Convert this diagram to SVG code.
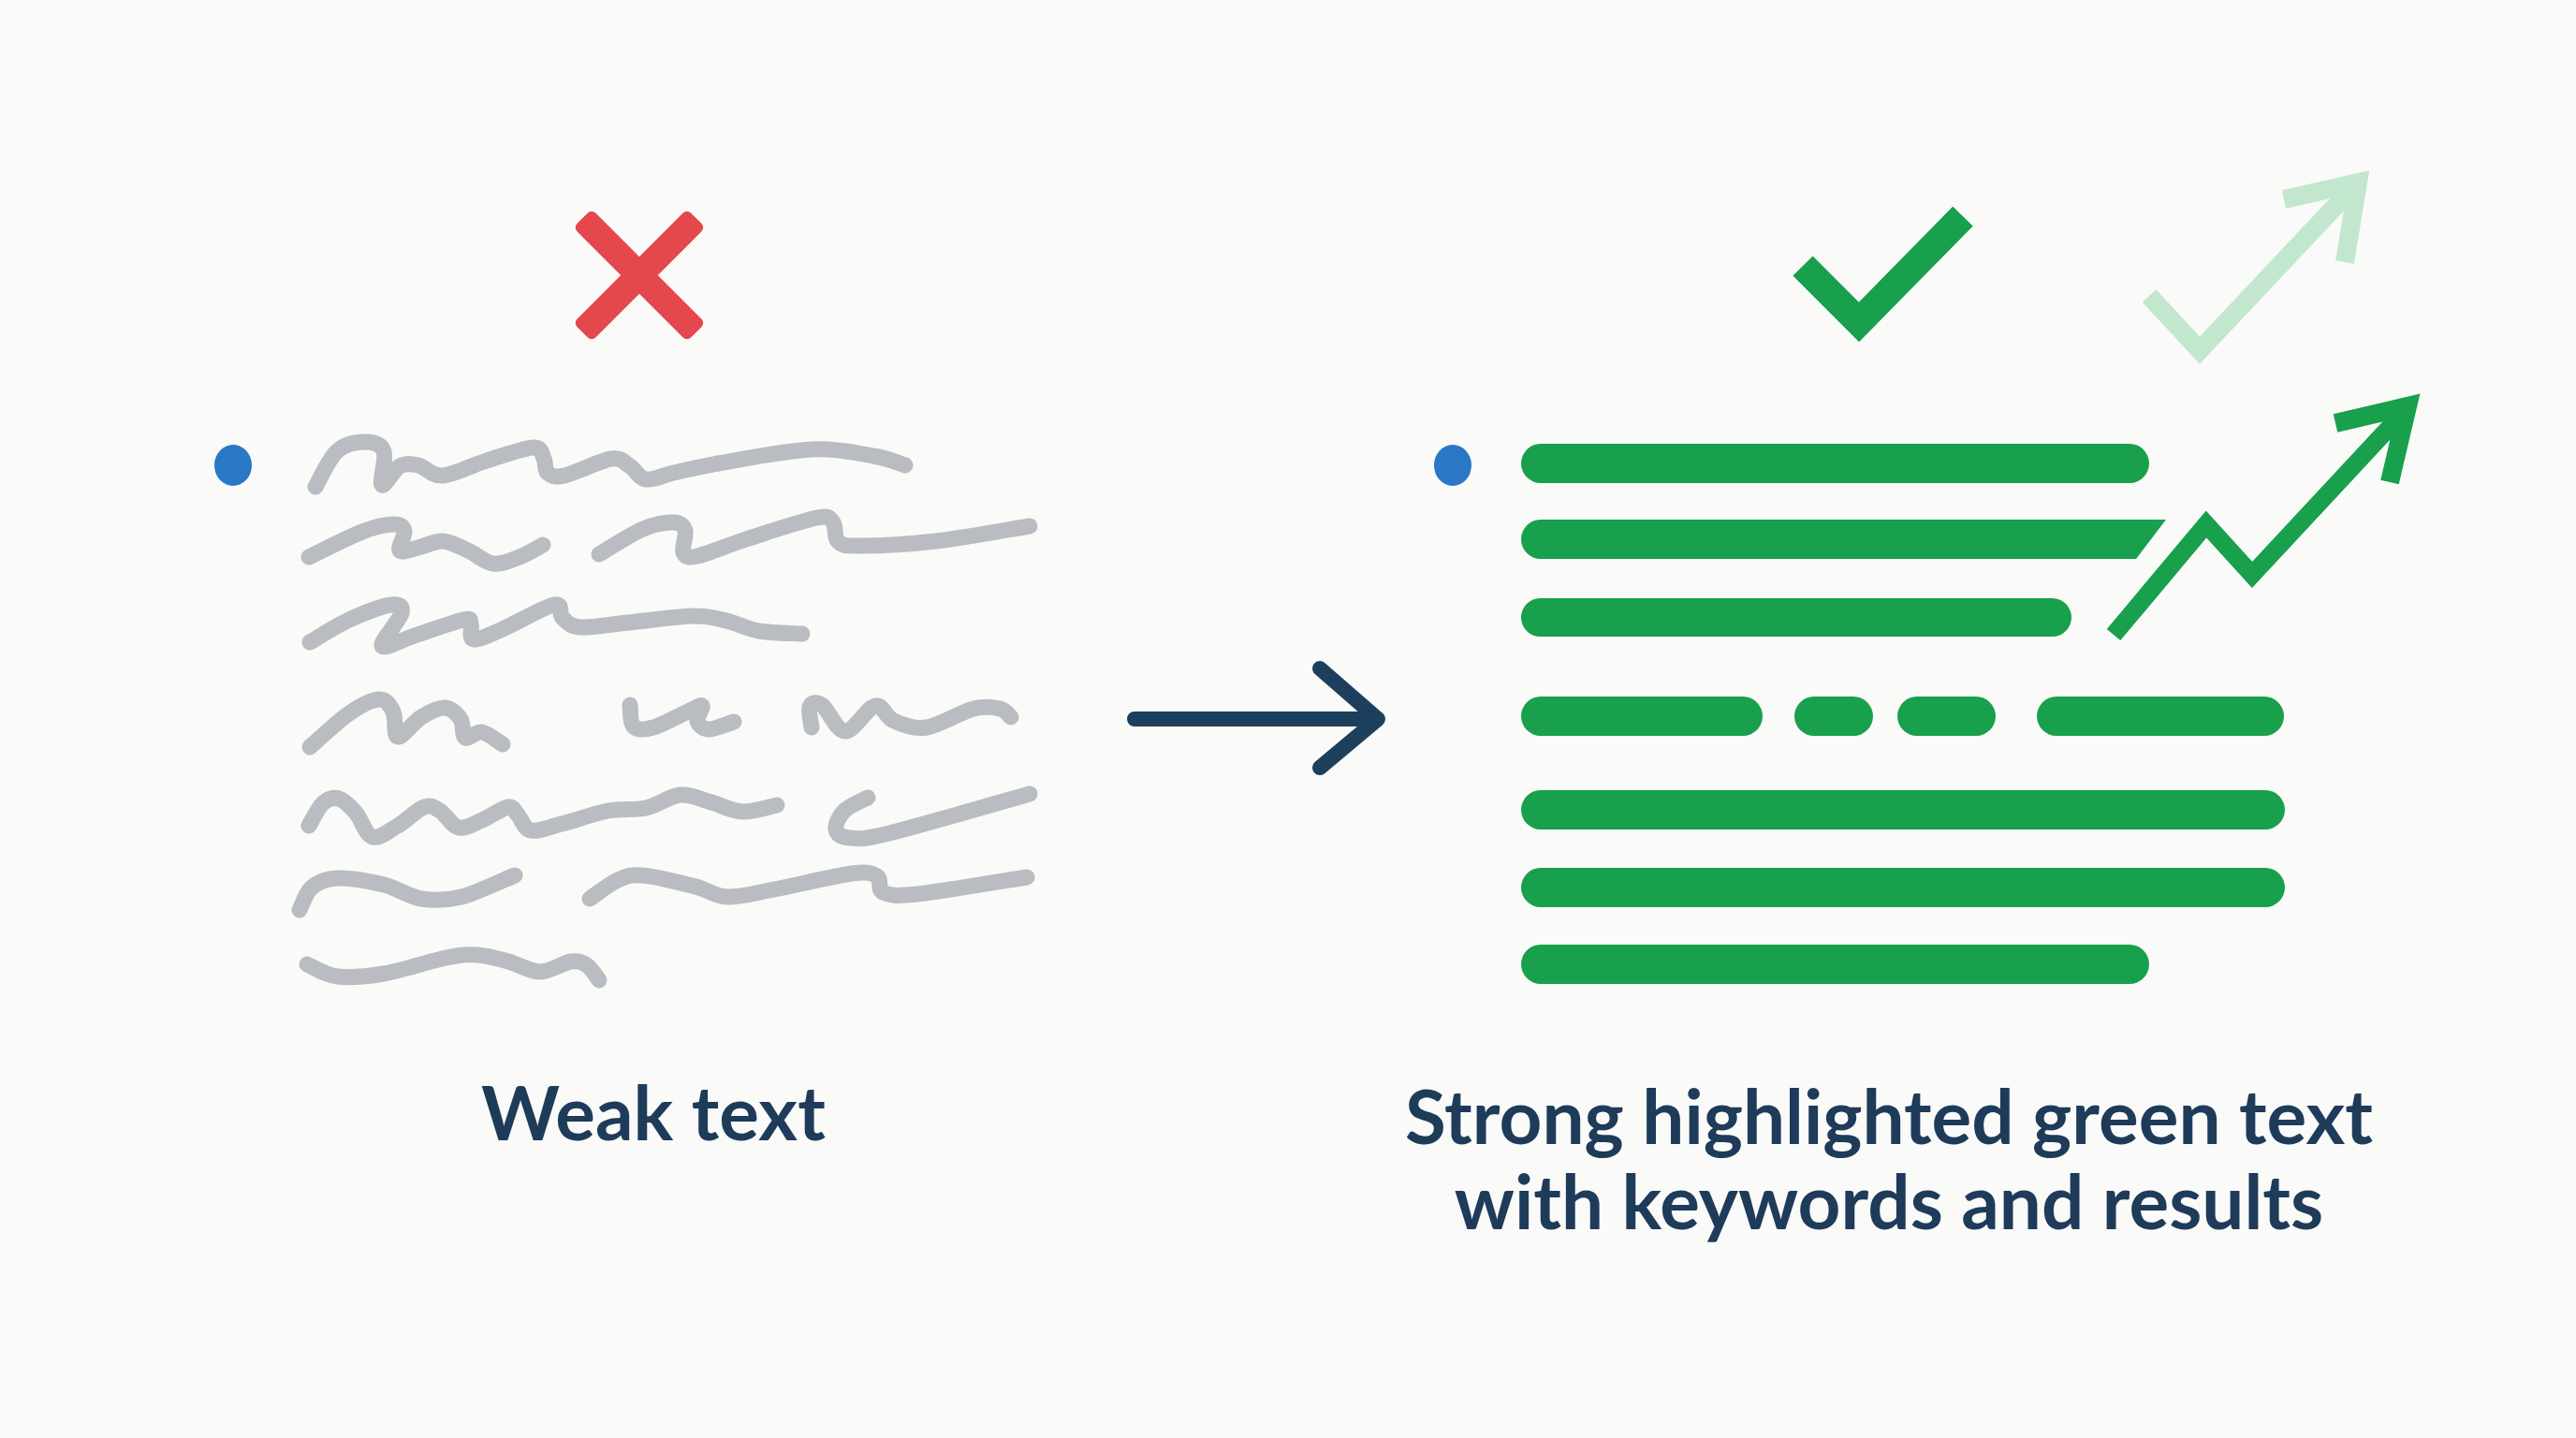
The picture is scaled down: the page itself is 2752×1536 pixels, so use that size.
<svg xmlns="http://www.w3.org/2000/svg" width="2752" height="1536" viewBox="0 0 2752 1536">
<style>
.sq{fill:none;stroke:#b9bcc0;stroke-width:17;stroke-linecap:round;stroke-linejoin:round}
.bar{fill:#18a04c}
.dot{fill:#2a78c5}
.lbl{font-family:Lato,"Open Sans","Liberation Sans",sans-serif;font-weight:700;font-size:80px;fill:#1e3b5a;text-anchor:middle}
.gl{fill:none;stroke:#18a04c;stroke-linejoin:miter;stroke-miterlimit:10}
.fl{fill:none;stroke:#c2e7ce;stroke-linejoin:miter;stroke-miterlimit:10}
</style>
<rect width="2752" height="1536" fill="#fafaf9"/>

<g id="weak-panel">
<g id="x-mark" fill="#e4474c">
<rect x="597" y="280" width="172" height="28" rx="6" transform="rotate(45 683 294)"/>
<rect x="597" y="280" width="172" height="28" rx="6" transform="rotate(-45 683 294)"/>
</g>
<ellipse id="weak-bullet" class="dot" cx="249" cy="497" rx="20" ry="22"/>
<g id="weak-lines">
<path class="sq" d="M337,520 C340.8,513.7 351.2,490 360,482 C368.8,474 381.7,472 390,472 C398.3,472 407,474.3 410,482 C413,489.7 405.2,515.3 408,518 C410.8,520.7 420.5,501.5 427,498 C433.5,494.5 439.3,495.3 447,497 C454.7,498.7 460.8,508.8 473,508 C485.2,507.2 503.8,497 520,492 C536.2,487 559.8,478.3 570,478 C580.2,477.7 578.5,485.5 581,490 C583.5,494.5 581.3,502 585,505 C588.7,508 591.7,510.5 603,508 C614.3,505.5 641.3,491.7 653,490 C664.7,488.3 666.8,494.3 673,498 C679.2,501.7 682.2,510.8 690,512 C697.8,513.2 707.2,507.8 720,505 C732.8,502.2 742.5,499.2 767,495 C791.5,490.8 839.3,481.3 867,480 C894.7,478.7 916.3,484.2 933,487 C949.7,489.8 961.3,495.3 967,497"/>
<path class="sq" d="M330,595 C339.5,590.5 372,573.8 387,568 C402,562.2 412.5,560.2 420,560 C427.5,559.8 430.8,562.3 432,567 C433.2,571.7 424.5,585 427,588 C429.5,591 439.3,586.7 447,585 C454.7,583.3 464.2,577.5 473,578 C481.8,578.5 491,584 500,588 C509,592 517.8,600.8 527,602 C536.2,603.2 546.2,598.3 555,595 C563.8,591.7 575.8,584.2 580,582"/>
<path class="sq" d="M640,592 C647.8,587.5 673.7,570.7 687,565 C700.3,559.3 712.5,557.7 720,558 C727.5,558.3 730.3,561.7 732,567 C733.7,572.3 727.8,585.5 730,590 C732.2,594.5 733.3,596.5 745,594 C756.7,591.5 778.7,581.8 800,575 C821.3,568.2 858,555.8 873,553 C888,550.2 886.3,553.8 890,558 C893.7,562.2 890.5,573.8 895,578 C899.5,582.2 899.5,583 917,583 C934.5,583 969.5,581.5 1000,578 C1030.5,574.5 1083.3,564.7 1100,562"/>
<path class="sq" d="M331,686 C338,682 358.5,668.7 373,662 C387.5,655.3 408.7,647.2 418,646 C427.3,644.8 430.7,647.7 429,655 C427.3,662.3 405.7,686 408,690 C410.3,694 428.5,683.7 443,679 C457.5,674.3 485,664.2 495,662 C505,659.8 501.2,662.5 503,666 C504.8,669.5 500.3,682 506,683 C511.7,684 522.7,678.2 537,672 C551.3,665.8 581.3,648 592,646 C602.7,644 596.3,656 601,660 C605.7,664 608.3,669.2 620,670 C631.7,670.8 650.8,667 671,665 C691.2,663 723.5,658.3 741,658 C758.5,657.7 764.3,660.3 776,663 C787.7,665.7 797.5,671.7 811,674 C824.5,676.3 849.3,676.5 857,677"/>
<path class="sq" d="M331,798 C338,792 360.7,770.5 373,762 C385.3,753.5 397.2,747.3 405,747 C412.8,746.7 416.7,753.3 420,760 C423.3,766.7 420,786 425,787 C430,788 441.7,771.2 450,766 C458.3,760.8 468,755.7 475,756 C482,756.3 488.3,762.7 492,768 C495.7,773.3 493.2,785.7 497,788 C500.8,790.3 508.3,780.8 515,782 C521.7,783.2 533.3,792.8 537,795"/>
<path class="sq" d="M673,753 C673.7,756.8 672.8,772 677,776 C681.2,780 688.3,779.7 698,777 C707.7,774.3 726.3,763.8 735,760 C743.7,756.2 748.3,752.3 750,754 C751.7,755.7 743.8,765.8 745,770 C746.2,774.2 750.5,778.8 757,779 C763.5,779.2 779.5,772.3 784,771"/>
<path class="sq" d="M867,777 C866.7,773.3 863.2,759 865,755 C866.8,751 871.7,748.7 878,753 C884.3,757.3 893.5,780.8 903,781 C912.5,781.2 926.3,755.8 935,754 C943.7,752.2 945.8,766.2 955,770 C964.2,773.8 975.8,779.2 990,777 C1004.2,774.8 1027,760.3 1040,757 C1053,753.7 1061.3,755.5 1068,757 C1074.7,758.5 1078,764.5 1080,766"/>
<path class="sq" d="M330,882 C332.5,878 339.7,862.8 345,858 C350.3,853.2 356.2,851.3 362,853 C367.8,854.7 374,861.2 380,868 C386,874.8 390.5,891.7 398,894 C405.5,896.3 415.8,887.3 425,882 C434.2,876.7 445.5,864.7 453,862 C460.5,859.3 463.8,862.3 470,866 C476.2,869.7 482.5,882.3 490,884 C497.5,885.7 506.2,879.7 515,876 C523.8,872.3 536.7,863 543,862 C549.3,861 549,865.8 553,870 C557,874.2 559.2,885.3 567,887 C574.8,888.7 586.2,883.5 600,880 C613.8,876.5 635,868.8 650,866 C665,863.2 677.2,865.8 690,863 C702.8,860.2 715.3,850 727,849 C738.7,848 749,854 760,857 C771,860 781.3,866.5 793,867 C804.7,867.5 823.8,861.2 830,860"/>
<path class="sq" d="M927,852 C922.8,854.3 907.7,860.3 902,866 C896.3,871.7 892,881.2 893,886 C894,890.8 898.5,894.3 908,895 C917.5,895.7 918,897.8 950,890 C982,882.2 1075,855 1100,848"/>
<path class="sq" d="M320,972 C322.2,968 326.3,953.7 333,948 C339.7,942.3 347.2,938.5 360,938 C372.8,937.5 395,941.3 410,945 C425,948.7 436.2,957.8 450,960 C463.8,962.2 476.3,962.2 493,958 C509.7,953.8 540.5,938.8 550,935"/>
<path class="sq" d="M630,960 C635,956.7 650.5,944.2 660,940 C669.5,935.8 673.2,933.8 687,935 C700.8,936.2 728,943.2 743,947 C758,950.8 763,957.5 777,958 C791,958.5 804.8,954.2 827,950 C849.2,945.8 891.7,935.5 910,933 C928.3,930.5 931.5,932.7 937,936 C942.5,939.3 936.8,949.8 943,953 C950.2,956.2 954.3,957.7 980,955 C1005.7,952.3 1077.5,940 1097,937"/>
<path class="sq" d="M328,1030 C333.3,1032.2 346.3,1041.3 360,1043 C373.7,1044.7 390.5,1043.3 410,1040 C429.5,1036.7 460.3,1026.3 477,1023 C493.7,1019.7 499,1019.3 510,1020 C521,1020.7 531.8,1024 543,1027 C554.2,1030 565.8,1038 577,1038 C588.2,1038 601.7,1028.2 610,1027 C618.3,1025.8 622,1027.7 627,1031 C632,1034.3 637.8,1044.3 640,1047"/>
</g>
<text id="weak-label" class="lbl" x="698" y="1218">Weak text</text>
</g>

<g id="connectors">
<path id="main-arrow" d="M1212,768 H1472 M1410,714 L1472,768 L1410,820" fill="none" stroke="#1d3f5e" stroke-width="16" stroke-linecap="round" stroke-linejoin="round"/>
</g>

<g id="strong-panel">
<polyline id="check-mark" class="gl" stroke-width="30" points="1926,284 1986,344 2097,231"/>
<g id="faded-arrow">
<polyline class="fl" stroke-width="20" points="2296,316 2350,374 2514,200"/>
<polyline class="fl" stroke-width="20" points="2440,213 2519,195 2505,280"/>
</g>
<ellipse id="strong-bullet" class="dot" cx="1552" cy="497" rx="20" ry="22"/>
<g id="green-lines">
<rect class="bar" x="1625" y="474" width="671" height="42" rx="21"/>
<path class="bar" d="M1646,555 H2314 L2282,597 H1646 A21,21 0 0 1 1646,555 Z"/>
<rect class="bar" x="1625" y="639" width="588" height="41" rx="20.5"/>
<rect class="bar" x="1625" y="744" width="258" height="42" rx="21"/>
<rect class="bar" x="1917" y="744" width="84" height="42" rx="21"/>
<rect class="bar" x="2027" y="744" width="105" height="42" rx="21"/>
<rect class="bar" x="2176" y="744" width="264" height="42" rx="21"/>
<rect class="bar" x="1625" y="844" width="816" height="42" rx="21"/>
<rect class="bar" x="1625" y="927" width="816" height="42" rx="21"/>
<rect class="bar" x="1625" y="1009" width="671" height="42" rx="21"/>
</g>
<g id="growth-arrow">
<polyline class="gl" stroke-width="19" points="2258,678 2357,560 2406,614 2568,440"/>
<polyline class="gl" stroke-width="20" points="2495,452 2572,434 2553,515"/>
</g>
<text id="strong-label" class="lbl"><tspan x="2018" y="1222">Strong highlighted green text</tspan><tspan x="2018" y="1313">with keywords and results</tspan></text>
</g>
</svg>
